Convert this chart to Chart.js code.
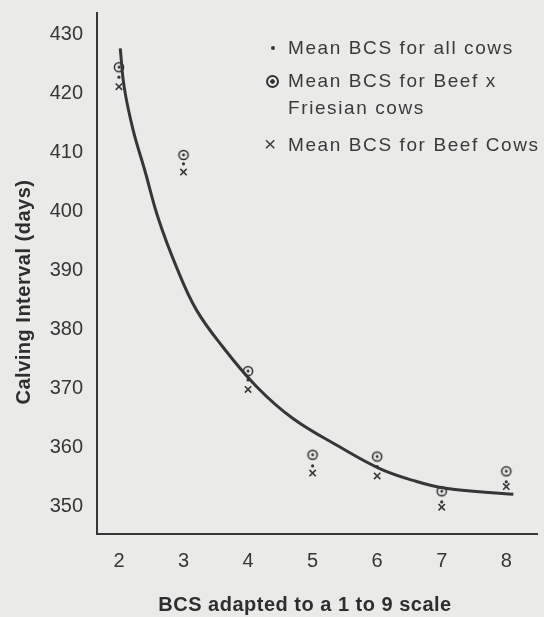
<!DOCTYPE html>
<html>
<head>
<meta charset="utf-8">
<script src="https://cdn.jsdelivr.net/npm/chart.js@4"></script>
<style>
  body { margin: 0; background: #eaeae8; }
  #wrap { position: relative; width: 544px; height: 617px; }
  .leg { position: absolute; left: 288px; font: 19px "Liberation Sans", Arial, sans-serif;
         letter-spacing: 1.6px; color: #3a3a3a; line-height: 24px; white-space: nowrap; }
  .mk { position: absolute; }
</style>
</head>
<body>
<div id="wrap">
  <canvas id="c" width="544" height="617"></canvas>
  <!-- legende -->
  <span class="mk" style="left:271px;top:46px;width:4px;height:4px;border-radius:50%;background:#3a3a3a"></span>
  <div class="leg" style="top:36px">Mean BCS for all cows</div>
  <span class="mk" style="left:266px;top:75px;width:9px;height:9px;border:2.5px solid #333;border-radius:50%;background:radial-gradient(circle,#333 0 2px,transparent 2.5px)"></span>
  <div class="leg" style="top:69px">Mean BCS for Beef x</div>
  <div class="leg" style="top:96px">Friesian cows</div>
  <div class="leg" style="top:132px;left:264px;letter-spacing:0;font-size:21px">×</div>
  <div class="leg" style="top:133px">Mean BCS for Beef Cows</div>
</div>
<script>
// ── DONNEES ──
const bcs          = [2, 3, 4, 5, 6, 7, 8];
const allCows      = [422.8, 408.1, 371.4, 356.8, 356.7, 350.7, 354.1];
const beefFriesian = [424.5, 409.6, 372.9, 358.7, 358.4, 352.5, 355.9];
const beefCows     = [421.2, 406.7, 369.8, 355.6, 355.1, 349.8, 353.3];
const curveX = [2.02, 2.08, 2.22, 2.40, 2.61, 2.89, 3.20, 3.61, 4.13, 4.69, 5.41, 6.03, 6.54, 7.06, 8.11];
const curveY = [427.7, 421.2, 413.8, 407.0, 398.8, 390.6, 383.3, 377.0, 370.3, 364.9, 360.1, 356.4, 354.4, 353.0, 352.0];
const yTicks = [350, 360, 370, 380, 390, 400, 410, 420, 430];

const INK = "#363636";
const FONT = "Liberation Sans, Arial, sans-serif";

const pts = ys => bcs.map((x, i) => ({ x, y: ys[i] }));

// cercle avec point central
const ring = document.createElement("canvas");
ring.width = 14; ring.height = 14;
(() => {
    const g = ring.getContext("2d");
    g.strokeStyle = "#2e2e2e"; g.fillStyle = "#2e2e2e"; g.lineWidth = 1.5;
    g.beginPath(); g.arc(7, 7, 4.6, 0, Math.PI * 2); g.stroke();
    g.beginPath(); g.arc(7, 7, 1.4, 0, Math.PI * 2); g.fill();
})();

// ── TITRES DES AXES ──
const axisTitles = {
    id: "axisTitles",
    afterDraw(chart) {
        const ctx = chart.ctx;
        ctx.save();
        ctx.fillStyle = "#2e2e2e";
        ctx.font = "bold 20px " + FONT;
        ctx.letterSpacing = "0.5px";
        ctx.textAlign = "center";
        ctx.textBaseline = "middle";
        ctx.fillText("BCS adapted to a 1 to 9 scale", 305, 605);
        ctx.translate(24, 292);
        ctx.rotate(-Math.PI / 2);
        ctx.fillText("Calving Interval (days)", 0, 0);
        ctx.restore();
    }
};

new Chart(document.getElementById("c"), {
    type: "scatter",
    data: {
        datasets: [
            {
                label: "Fitted curve",
                data: curveX.map((x, i) => ({ x, y: curveY[i] })),
                showLine: true,
                borderColor: INK,
                borderWidth: 3,
                pointRadius: 0,
                tension: 0.4
            },
            {
                label: "Mean BCS for all cows",
                data: pts(allCows),
                pointStyle: "circle",
                pointRadius: 1.6,
                backgroundColor: INK,
                borderColor: INK,
                borderWidth: 0
            },
            {
                label: "Mean BCS for Beef x Friesian cows",
                data: pts(beefFriesian),
                pointStyle: ring
            },
            {
                label: "Mean BCS for Beef Cows",
                data: pts(beefCows),
                pointStyle: "crossRot",
                pointRadius: 4.5,
                borderColor: INK,
                borderWidth: 1.6
            }
        ]
    },
    options: {
        responsive: false,
        animation: false,
        layout: { padding: { top: 13, right: 4, left: 0, bottom: 0 } },
        plugins: { legend: { display: false }, tooltip: { enabled: false } },
        scales: {
            x: {
                type: "linear",
                min: 1.66, max: 8.49,
                afterFit: s => { s.height = 83; s.paddingLeft = 0; s.paddingRight = 0; },
                afterBuildTicks: s => { s.ticks = bcs.map(v => ({ value: v })); },
                grid: { display: false, drawTicks: false },
                border: { display: true, color: INK, width: 2 },
                ticks: { color: INK, font: { family: FONT, size: 20 }, padding: 15 }
            },
            y: {
                min: 345.25, max: 433.7,
                afterFit: s => { s.width = 97; s.paddingTop = 0; s.paddingBottom = 0; },
                afterBuildTicks: s => { s.ticks = yTicks.map(v => ({ value: v })); },
                grid: { display: false, drawTicks: false },
                border: { display: true, color: INK, width: 2 },
                ticks: { color: INK, font: { family: FONT, size: 20 }, padding: 14 }
            }
        }
    },
    plugins: [axisTitles]
});
</script>
</body>
</html>
